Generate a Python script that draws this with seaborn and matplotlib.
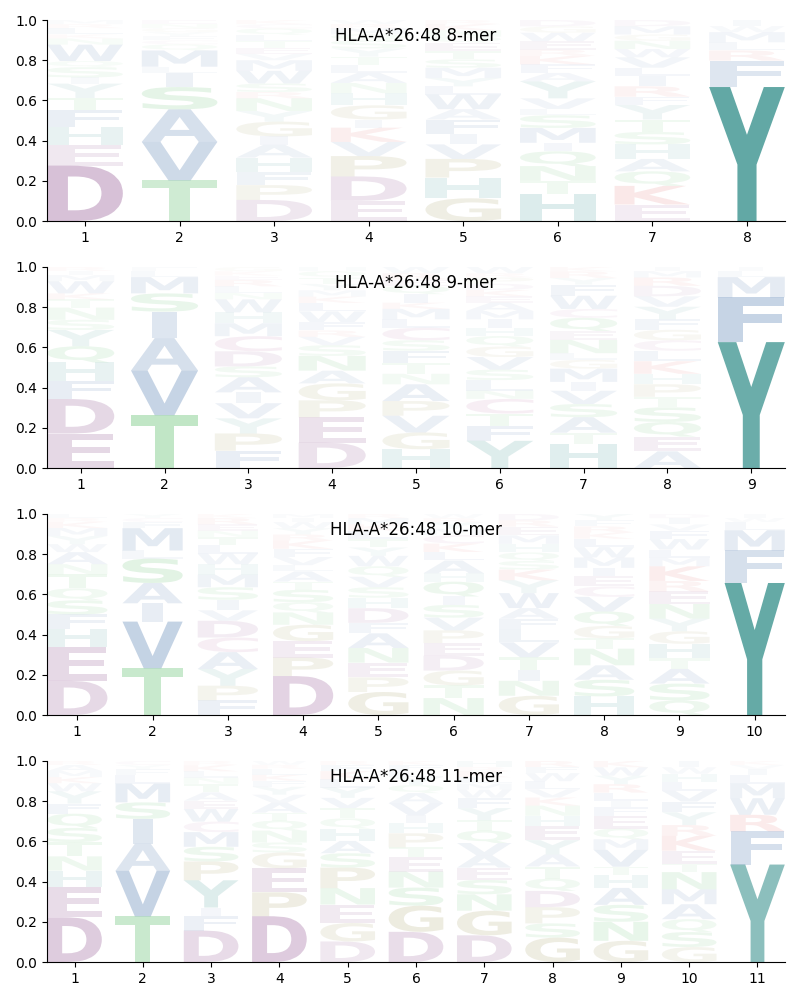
import matplotlib
matplotlib.use("Agg")
import matplotlib.pyplot as plt
import seaborn as sns
from matplotlib.textpath import TextPath
from matplotlib.patches import PathPatch
from matplotlib.font_manager import FontProperties
from matplotlib.transforms import Affine2D

allele = "HLA-A*26:48"

# letter stacks per position, bottom to top (letter, probability)
mer8 = [
    [("D", .27), ("E", .10), ("H", .09), ("F", .08), ("T", .06), ("Y", .07), ("I", .03), ("S", .05),
     ("Q", .03), ("W", .08), ("N", .03), ("K", .02), ("L", .03), ("R", .02), ("M", .02)],
    [("T", .20), ("V", .19), ("A", .16), ("S", .11), ("I", .07), ("L", .03), ("M", .08), ("Q", .03),
     ("C", .02), ("F", .02), ("Y", .02), ("G", .02), ("N", .02), ("E", .02)],
    [("D", .10), ("P", .07), ("F", .06), ("H", .07), ("A", .06), ("I", .04), ("G", .07), ("Y", .05),
     ("N", .06), ("R", .03), ("S", .04), ("W", .06), ("M", .05), ("V", .03), ("E", .03), ("T", .03),
     ("L", .03), ("Q", .03), ("C", .02), ("K", .02)],
    [("E", .10), ("D", .12), ("P", .10), ("V", .07), ("K", .07), ("I", .04), ("G", .07), ("H", .06),
     ("N", .05), ("A", .05), ("L", .04), ("T", .04), ("Y", .04), ("S", .04), ("Q", .03), ("M", .03),
     ("R", .02), ("W", .02)],
    [("G", .11), ("H", .10), ("P", .09), ("V", .07), ("I", .05), ("F", .07), ("A", .05), ("W", .07),
     ("L", .04), ("Y", .04), ("M", .05), ("S", .04), ("T", .04), ("E", .04), ("Q", .03), ("N", .03),
     ("K", .03), ("R", .02)],
    [("H", .13), ("T", .06), ("N", .07), ("Q", .07), ("I", .04), ("M", .07), ("S", .06), ("L", .03),
     ("V", .05), ("Y", .08), ("A", .04), ("F", .04), ("K", .04), ("R", .03), ("E", .04), ("W", .04),
     ("G", .03), ("D", .03)],
    [("E", .08), ("K", .09), ("Q", .07), ("A", .06), ("H", .07), ("S", .06), ("T", .06), ("Y", .07),
     ("F", .04), ("R", .05), ("I", .05), ("L", .04), ("V", .05), ("W", .04), ("N", .04), ("G", .03),
     ("M", .04), ("D", .03)],
    [("Y", .66), ("F", .13), ("R", .05), ("L", .04), ("M", .05), ("W", .03), ("I", .03)],
]

mer9 = [
    [("E", .17), ("D", .17), ("F", .09), ("H", .09), ("Q", .08), ("Y", .08), ("S", .05), ("N", .06),
     ("T", .04), ("K", .03), ("W", .06), ("M", .03), ("I", .02), ("R", .02)],
    [("T", .26), ("V", .22), ("A", .16), ("I", .13), ("S", .09), ("M", .08), ("L", .03), ("F", .02)],
    [("F", .08), ("P", .08), ("Y", .07), ("V", .07), ("I", .05), ("A", .07), ("S", .05), ("D", .07),
     ("C", .07), ("M", .06), ("H", .05), ("W", .06), ("N", .03), ("L", .03), ("R", .03), ("E", .02),
     ("K", .02), ("G", .02)],
    [("D", .12), ("E", .12), ("P", .08), ("G", .08), ("A", .06), ("N", .07), ("S", .05), ("V", .04),
     ("R", .03), ("F", .04), ("W", .05), ("L", .04), ("K", .03), ("M", .03), ("Y", .03), ("T", .03),
     ("Q", .03), ("H", .02)],
    [("H", .09), ("G", .08), ("V", .08), ("P", .07), ("A", .08), ("N", .05), ("T", .05), ("F", .06),
     ("S", .05), ("C", .06), ("L", .04), ("M", .05), ("K", .03), ("I", .04), ("Q", .04), ("E", .03),
     ("R", .03), ("W", .03)],
    [("Y", .13), ("F", .07), ("T", .06), ("C", .07), ("N", .04), ("L", .05), ("S", .05), ("V", .06),
     ("G", .05), ("Q", .05), ("H", .04), ("I", .04), ("M", .04), ("A", .04), ("E", .03), ("K", .03),
     ("D", .03), ("P", .03), ("R", .02), ("W", .03)],
    [("H", .11), ("T", .05), ("A", .07), ("S", .06), ("V", .06), ("I", .04), ("M", .06), ("G", .04),
     ("L", .03), ("N", .06), ("E", .04), ("Q", .06), ("C", .04), ("W", .06), ("F", .05), ("Y", .03),
     ("R", .03), ("K", .02)],
    [("A", .08), ("E", .07), ("Q", .07), ("S", .07), ("T", .05), ("P", .06), ("H", .05), ("K", .06),
     ("L", .05), ("C", .05), ("G", .05), ("F", .05), ("Y", .06), ("V", .05), ("D", .05), ("R", .04),
     ("M", .03), ("I", .02)],
    [("Y", .62), ("F", .22), ("M", .10), ("L", .03), ("I", .02)],
]

mer10 = [
    [("D", .17), ("E", .17), ("H", .09), ("F", .07), ("S", .07), ("Q", .06), ("T", .07), ("N", .05),
     ("A", .06), ("W", .04), ("Y", .04), ("M", .04), ("K", .03), ("R", .02), ("L", .02)],
    [("T", .23), ("V", .23), ("I", .09), ("A", .10), ("S", .12), ("L", .04), ("M", .11), ("F", .03),
     ("C", .02), ("Y", .02)],
    [("F", .07), ("P", .07), ("Y", .08), ("A", .08), ("C", .07), ("D", .08), ("V", .05), ("I", .05),
     ("S", .06), ("M", .06), ("H", .05), ("W", .05), ("L", .04), ("T", .04), ("N", .03), ("E", .03),
     ("R", .03), ("K", .02)],
    [("D", .19), ("P", .09), ("E", .08), ("G", .08), ("N", .06), ("Q", .05), ("S", .06), ("T", .04),
     ("A", .05), ("L", .03), ("V", .04), ("F", .04), ("K", .04), ("R", .03), ("Y", .03), ("W", .03),
     ("I", .02), ("M", .02)],
    [("G", .11), ("P", .07), ("E", .07), ("N", .07), ("A", .07), ("F", .05), ("D", .07), ("H", .05),
     ("S", .05), ("V", .05), ("Q", .05), ("W", .05), ("Y", .04), ("T", .04), ("L", .04), ("K", .03),
     ("M", .03), ("R", .02)],
    [("N", .08), ("T", .06), ("G", .07), ("D", .07), ("E", .06), ("P", .06), ("V", .06), ("S", .06),
     ("I", .04), ("Q", .07), ("H", .04), ("A", .06), ("L", .04), ("K", .04), ("C", .04), ("M", .03),
     ("Y", .03), ("R", .02), ("W", .02)],
    [("G", .09), ("N", .07), ("I", .05), ("T", .06), ("V", .07), ("L", .06), ("F", .05), ("A", .05),
     ("W", .07), ("Y", .06), ("K", .05), ("S", .04), ("Q", .04), ("H", .04), ("M", .04), ("E", .04),
     ("R", .03), ("D", .03)],
    [("H", .09), ("S", .08), ("A", .07), ("N", .08), ("T", .05), ("G", .06), ("Q", .07), ("V", .07),
     ("C", .05), ("E", .05), ("I", .04), ("M", .05), ("W", .05), ("L", .04), ("K", .03), ("R", .03),
     ("F", .03), ("Y", .03)],
    [("Q", .07), ("S", .08), ("A", .07), ("T", .05), ("H", .07), ("G", .06), ("Y", .06), ("N", .07),
     ("E", .06), ("R", .05), ("K", .07), ("M", .04), ("L", .04), ("W", .05), ("F", .04), ("V", .03),
     ("I", .03), ("D", .02)],
    [("Y", .65), ("F", .16), ("M", .10), ("L", .04), ("W", .02), ("I", .02)],
]

mer11 = [
    [("D", .22), ("E", .15), ("H", .08), ("N", .07), ("T", .07), ("S", .07), ("Q", .07), ("F", .05),
     ("Y", .06), ("W", .04), ("K", .03), ("M", .03), ("A", .03), ("R", .02)],
    [("T", .22), ("V", .22), ("A", .13), ("I", .12), ("S", .08), ("M", .09), ("L", .04), ("F", .03),
     ("Y", .02), ("C", .02)],
    [("D", .15), ("F", .07), ("I", .04), ("Y", .13), ("P", .09), ("S", .07), ("M", .07), ("C", .05),
     ("W", .06), ("E", .04), ("A", .04), ("T", .04), ("N", .03), ("L", .03), ("K", .03), ("R", .02)],
    [("D", .23), ("P", .12), ("E", .12), ("G", .08), ("S", .05), ("N", .06), ("Q", .05), ("T", .04),
     ("A", .05), ("V", .04), ("Y", .04), ("F", .03), ("K", .03), ("L", .03), ("R", .02), ("W", .02)],
    [("D", .10), ("G", .09), ("E", .09), ("N", .08), ("P", .10), ("S", .07), ("A", .06), ("H", .06),
     ("Q", .05), ("T", .05), ("V", .05), ("Y", .05), ("L", .04), ("K", .04), ("F", .03), ("R", .02)],
    [("D", .15), ("G", .13), ("S", .09), ("N", .08), ("E", .07), ("T", .05), ("P", .07), ("H", .05),
     ("I", .04), ("V", .06), ("A", .05), ("Q", .04), ("Y", .04), ("L", .03), ("F", .03), ("K", .02)],
    [("D", .13), ("G", .12), ("N", .08), ("S", .07), ("E", .06), ("A", .06), ("V", .06), ("Q", .06),
     ("T", .05), ("Y", .06), ("F", .05), ("W", .04), ("M", .03), ("L", .03), ("K", .03), ("R", .02),
     ("H", .03)],
    [("G", .12), ("S", .07), ("P", .08), ("D", .08), ("Q", .06), ("T", .06), ("A", .06), ("Y", .07),
     ("E", .07), ("H", .05), ("N", .05), ("K", .04), ("V", .04), ("L", .04), ("W", .04), ("F", .03),
     ("R", .03)],
    [("G", .10), ("N", .09), ("S", .08), ("A", .08), ("H", .06), ("T", .04), ("V", .08), ("M", .05),
     ("Q", .05), ("E", .06), ("F", .04), ("I", .03), ("L", .04), ("R", .04), ("Y", .04), ("W", .04),
     ("K", .03)],
    [("G", .07), ("S", .07), ("Q", .06), ("A", .07), ("M", .07), ("N", .08), ("T", .04), ("E", .06),
     ("K", .07), ("R", .05), ("Y", .06), ("F", .05), ("V", .05), ("L", .04), ("H", .04), ("W", .03),
     ("I", .03)],
    [("Y", .47), ("F", .16), ("R", .08), ("W", .08), ("M", .07), ("L", .04), ("I", .03), ("V", .02),
     ("K", .02)],
]

panels = [(8, mer8), (9, mer9), (10, mer10), (11, mer11)]

aa_colors = {
    "D": "#6e1e6e", "E": "#6e1e6e",
    "K": "#d21414", "R": "#d21414",
    "H": "#007878", "Y": "#147d78",
    "S": "#14a028", "T": "#14a028", "N": "#14a028", "Q": "#14a028",
    "G": "#786e14", "P": "#786e14",
    "A": "#00418c", "V": "#00418c", "I": "#00418c", "L": "#00418c",
    "M": "#00418c", "F": "#00418c", "W": "#00418c",
    "C": "#962878",
}

sns.set_style("ticks", {
    "axes.edgecolor": "black",
    "text.color": "black",
    "xtick.color": "black",
    "ytick.color": "black",
    "axes.labelcolor": "black",
})
plt.rcParams["font.family"] = ["DejaVu Sans"]

font = FontProperties(family="DejaVu Sans", weight="bold")
ref_width = TextPath((0, 0), "E", size=1, prop=font).get_extents().width


def draw_letter(c, x, y, h, width=0.8):
    path = TextPath((0, 0), c, size=1, prop=font)
    bb = path.get_extents()
    hs = width / max(bb.width, ref_width)
    vs = h / bb.height
    cw = bb.width * hs
    tr = Affine2D().translate(-bb.x0, -bb.y0).scale(hs, vs).translate(x - cw / 2, y)
    return tr.transform_path(path)


fig, axes = plt.subplots(4, 1, figsize=(8, 10))
fig.subplots_adjust(left=0.059, right=0.981, top=0.98, bottom=0.038, hspace=0.228)

for ax, (n, columns) in zip(axes, panels):
    for pos, stack in enumerate(columns, start=1):
        total = sum(v for _, v in stack)
        y = 0
        for c, v in stack:
            p = v / total
            path = draw_letter(c, pos, y, p)
            ax.add_patch(PathPatch(path, facecolor=aa_colors[c], edgecolor="none",
                                   alpha=min(1.0, p)))
            y += p
    ax.set_xlim(0.6, n + 0.4)
    ax.set_ylim(0, 1)
    ax.set_xticks(range(1, n + 1))
    ax.set_yticks([0, 0.2, 0.4, 0.6, 0.8, 1.0])
    ax.text(0.5, 0.92, f"{allele} {n}-mer", transform=ax.transAxes,
            ha="center", va="center", fontsize=12)
    sns.despine(ax=ax)

fig.savefig("out.png", dpi=100)
